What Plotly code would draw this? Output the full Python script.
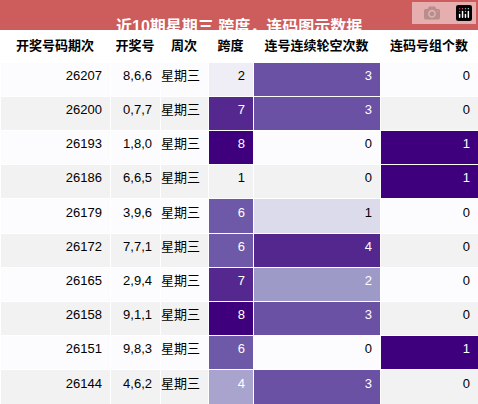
import plotly.graph_objects as go

periods = ["26207","26200","26193","26186","26179","26172","26165","26158","26151","26144"]
numbers = ["8,6,6","0,7,7","1,8,0","6,6,5","3,9,6","7,7,1","2,9,4","9,1,1","9,8,3","4,6,2"]
weekday = ["星期三"]*10
span = [2,7,8,1,6,6,7,8,6,4]
gap = [3,3,0,0,1,4,2,3,0,3]
groups = [0,0,1,1,0,0,0,0,1,0]
headers = ["开奖号码期次","开奖号","周次","跨度","连号连续轮空次数","连码号组个数"]

span_c = {1:"#fcfbfd",2:"#efedf5",4:"#a8a4ce",6:"#6e58a8",7:"#55288f",8:"#3f007d"}
gap_c = {0:"#fcfbfd",1:"#dcdbec",2:"#9e9ac8",3:"#6a51a3",4:"#54278f"}
grp_c = {0:"#fcfbfd",1:"#3f007d"}
dark = lambda c: c in ("#6e58a8","#55288f","#3f007d","#6a51a3","#54278f","#9e9ac8","#a8a4ce")

bg = ["#fcfcfe" if i%2==0 else "#f2f2f2" for i in range(10)]
def col(vals, cmap):
    fills=[]; fonts=[]
    for i,v in enumerate(vals):
        c=cmap[v]
        fills.append(bg[i] if c=="#fcfbfd" else c)
        fonts.append("white" if dark(c) else "black")
    return fills, fonts
sf,sfo = col(span,span_c); gf,gfo = col(gap,gap_c); rf,rfo = col(groups,grp_c)
fills=[bg,bg,bg,sf,gf,rf]
fcol=[["black"]*10]*3+[sfo,gfo,rfo]

FONT="Liberation Sans, Noto Sans CJK SC"
H=404; top=30
fig=go.Figure(go.Table(
    domain=dict(x=[0,1],y=[0,(H-top)/H]),
    columnwidth=[110,50,48,45,127,98],
    header=dict(values=["<b>%s</b>"%h for h in headers],fill_color="white",
                line=dict(color="white",width=1),height=32,align="center",
                font=dict(family=FONT,size=13,color="black")),
    cells=dict(values=[periods,numbers,weekday,span,gap,groups],fill_color=fills,
               line=dict(color="white",width=1),height=34.2,
               align="right",
               font=dict(family=FONT,size=13,color=fcol))))
fig.add_shape(type="rect",xref="paper",yref="paper",x0=0,x1=1,y0=(H-top)/H,y1=1,
              fillcolor="#cd5c5c",line=dict(width=0))
fig.add_annotation(text="<b>近10期星期三 跨度，连码图示数据</b>",xref="paper",yref="paper",
                   x=0.5,y=1-15/H,showarrow=False,
                   font=dict(family=FONT,size=16,color="white"))
fig.update_layout(width=478,height=404,margin=dict(l=0,r=0,t=0,b=0),paper_bgcolor="white")
fig.write_html("out.html",post_script="document.body.style.margin='0';")
